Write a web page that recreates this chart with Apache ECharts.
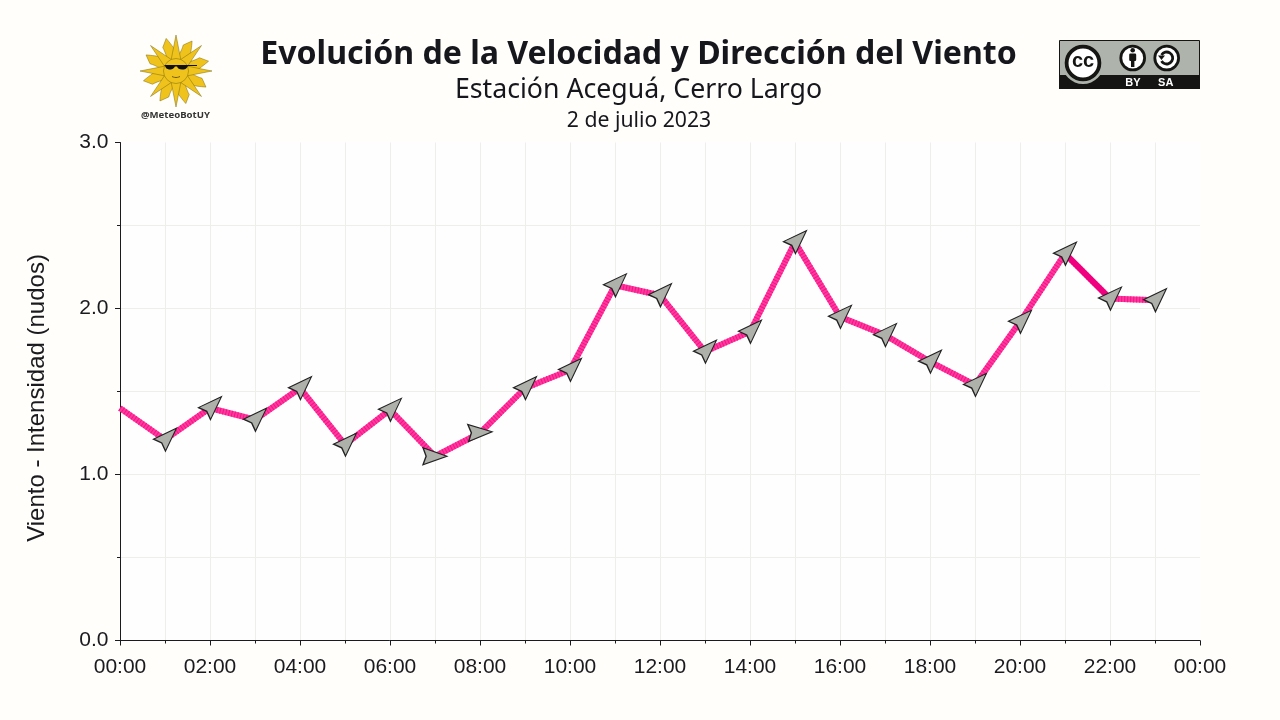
<!DOCTYPE html>
<html><head><meta charset="utf-8">
<script src="https://cdn.jsdelivr.net/npm/echarts@6/dist/echarts.min.js"></script>
<style>html,body{margin:0;padding:0;background:#FFFEFA}#c{width:1280px;height:720px}</style>
</head><body><div id="c"></div>
<script>
const hours = [0,1,2,3,4,5,6,7,8,9,10,11,12,13,14,15,16,17,18,19,20,21,22,23];
const speed = [1.40,1.21,1.40,1.33,1.52,1.18,1.39,1.11,1.25,1.52,1.63,2.14,2.08,1.74,1.86,2.40,1.95,1.84,1.68,1.54,1.92,2.33,2.06,2.05];
const direction = [null,45,45,45,45,45,45,90,87,45,45,45,45,45,45,45,45,45,45,45,45,45,45,45];
const deepHours = [21,22];
const deepSpeed = [2.33,2.06];

const titleText = 'Evolución de la Velocidad y Dirección del Viento';
const subtitleText = 'Estación Aceguá, Cerro Largo';
const dateText = '2 de julio 2023';
const yName = 'Viento - Intensidad (nudos)';

const ARROW = 'path://M8,0 L16,23 L8,20 L0,23 Z';
const AW = 17, AH = 24;
function arrowOffset(deg){
  const t = deg*Math.PI/180, c=Math.cos(t), s=Math.sin(t);
  const pts = [[0,-AH/2],[AW/2,AH/2],[-AW/2,AH/2]].map(p=>[p[0]*c-p[1]*s,p[0]*s+p[1]*c]);
  const xs = pts.map(p=>p[0]), ys = pts.map(p=>p[1]);
  return [-(Math.min(...xs)+Math.max(...xs))/2, -(Math.min(...ys)+Math.max(...ys))/2];
}
const pairs = hours.map((h,i)=>[h,speed[i]]);
const arrowData = hours.map((h,i)=> direction[i]===null ? null : ({
  value:[h,speed[i]], symbolRotate:-direction[i], symbolOffset:arrowOffset(direction[i])
})).filter(Boolean);

// Decorative logos
const logo = [];
function quad(p0,c,p1,n){const out=[];for(let k=1;k<=n;k++){const t=k/n,u=1-t;out.push([u*u*p0[0]+2*u*t*c[0]+t*t*p1[0],u*u*p0[1]+2*u*t*c[1]+t*t*p1[1]]);}return out;}
(function sun(){
  const cx=176, cy=71, fill='#EFC31B', edge='#7d6a12';
  const P=(r,a)=>[cx+r*Math.sin(a), cy-r*Math.cos(a)];
  for(let i=0;i<16;i++){
    const a=i*Math.PI/8;
    if(i%2===0){
      logo.push({type:'polygon',z:100,shape:{points:[P(12,a-0.42),P(36,a),P(12,a+0.42)]},style:{fill,stroke:edge,lineWidth:0.5}});
    } else {
      const b=P(11,a-0.42),m1=P(20,a-0.12),m2=P(27,a-0.12),t=P(34,a+0.1),m3=P(28,a+0.2),m4=P(22,a+0.32),e=P(11,a+0.42);
      const pts=[b].concat(quad(b,m1,m2,6),[t],quad(t,m3,m4,6),[e]);
      logo.push({type:'polygon',z:99,shape:{points:pts},style:{fill,stroke:edge,lineWidth:0.5}});
    }
  }
  logo.push({type:'circle',z:101,shape:{cx,cy,r:12.5},style:{fill,stroke:edge,lineWidth:0.5}});
  logo.push({type:'polygon',z:102,shape:{points:[[164,65],[197,65],[197,66],[188,66]].concat(quad([188,66],[186,70],[182,69.5],4),quad([182,69.5],[178,69.5],[177,66.5],4),[[175,66.5]],quad([175,66.5],[173,70],[169,69.5],4),quad([169,69.5],[166,69],[165,66],4))},style:{fill:'#111'}});
  logo.push({type:'polyline',z:102,shape:{points:[[172,76.5]].concat(quad([172,76.5],[176,78.5],[180,76.5],6))},style:{fill:'none',stroke:'#6e5a0c',lineWidth:1}});
  logo.push({type:'text',z:102,style:{text:'@MeteoBotUY',x:175.5,y:115,align:'center',verticalAlign:'middle',font:'bold 9.6px "Noto Sans"',fill:'#333'}});
})();
(function cc(){
  logo.push({type:'rect',z:100,shape:{x:1059.5,y:40.5,width:140,height:48},style:{fill:'#AEB4AB',stroke:'#151613',lineWidth:1}});
  logo.push({type:'rect',z:101,shape:{x:1059,y:75,width:141,height:14},style:{fill:'#151613'}});
  logo.push({type:'circle',z:102,shape:{cx:1083,cy:63,r:21},style:{fill:'#AEB4AB'}});
  logo.push({type:'circle',z:104,shape:{cx:1083,cy:63,r:16.4},style:{fill:'#fff',stroke:'#151613',lineWidth:3.8}});
  logo.push({type:'text',z:105,style:{text:'cc',x:1083,y:61.5,align:'center',verticalAlign:'middle',font:'bold 20px "Liberation Sans"',fill:'#151613'}});
  [1132.7,1166.7].forEach(cx=>{
    logo.push({type:'circle',z:103,shape:{cx,cy:58,r:11.9},style:{fill:'#fff',stroke:'#151613',lineWidth:2.8}});
  });
  logo.push({type:'circle',z:104,shape:{cx:1132.7,cy:50.3,r:2.3},style:{fill:'#151613'}});
  logo.push({type:'rect',z:104,shape:{x:1129.2,y:53.5,width:7,height:7.5,r:1.2},style:{fill:'#151613'}});
  logo.push({type:'rect',z:104,shape:{x:1131,y:60,width:3.4,height:7},style:{fill:'#151613'}});
  logo.push({type:'arc',z:104,shape:{cx:1166.7,cy:58,r:6,startAngle:-2.6,endAngle:2.6,clockwise:true},style:{fill:'none',stroke:'#151613',lineWidth:2.8}});
  logo.push({type:'polygon',z:104,shape:{points:[[1158,55.5],[1165,55.5],[1161.5,60]]},style:{fill:'#151613'}});
  logo.push({type:'text',z:105,style:{text:'BY',x:1133,y:82.5,align:'center',verticalAlign:'middle',font:'bold 11px "Liberation Sans"',fill:'#fff'}});
  logo.push({type:'text',z:105,style:{text:'SA',x:1165.7,y:82.5,align:'center',verticalAlign:'middle',font:'bold 11px "Liberation Sans"',fill:'#fff'}});
})();

const ink='#1a1a1f', gridCol='#EFEFE9';
const chart = echarts.init(document.getElementById('c'),null,{renderer:'canvas'});
chart.setOption({
  animation:false,
  backgroundColor:'#FFFEFA',
  title:[
    {text:titleText,left:633.5,top:29,textAlign:'center',textStyle:{fontFamily:'Noto Sans',fontWeight:'bold',fontSize:32.1,color:'#16161d',lineHeight:42}},
    {text:subtitleText,left:633.5,top:66,textAlign:'center',textStyle:{fontFamily:'Noto Sans',fontWeight:'normal',fontSize:26.7,color:'#16161d',lineHeight:38}},
    {text:dateText,left:634,top:101,textAlign:'center',textStyle:{fontFamily:'Noto Sans',fontWeight:'normal',fontSize:21.2,color:'#16161d',lineHeight:30}}
  ],
  grid:{left:120,right:80,top:142.5,bottom:79.5,show:true,backgroundColor:'#FFFEFE',borderWidth:0},
  xAxis:{type:'value',min:0,max:24,interval:2,offset:0.7,
    axisLine:{show:true,lineStyle:{color:ink,width:1}},
    axisTick:{show:true,length:5,lineStyle:{color:ink,width:1}},
    minorTick:{show:true,splitNumber:2,length:3,lineStyle:{color:ink,width:1}},
    splitLine:{show:true,showMinLine:false,showMaxLine:false,lineStyle:{color:gridCol,width:1}},
    minorSplitLine:{show:true,lineStyle:{color:gridCol,width:1}},
    axisLabel:{margin:16,fontFamily:'Liberation Sans',fontSize:21,color:ink,showMinLabel:true,showMaxLabel:true,
      formatter:v=>String(v%24).padStart(2,'0')+':00'}
  },
  yAxis:{type:'value',min:0,max:3,interval:1,offset:1.5,
    name:yName,nameLocation:'middle',nameGap:69,nameRotate:90,
    nameTextStyle:{fontFamily:'Liberation Sans',fontSize:24,color:ink,padding:[0,13,0,0]},
    axisLine:{show:true,lineStyle:{color:ink,width:1}},
    axisTick:{show:true,length:5,lineStyle:{color:ink,width:1}},
    minorTick:{show:true,splitNumber:2,length:3,lineStyle:{color:ink,width:1}},
    splitLine:{show:true,showMinLine:false,showMaxLine:false,lineStyle:{color:gridCol,width:1}},
    minorSplitLine:{show:true,lineStyle:{color:gridCol,width:1}},
    axisLabel:{margin:10,padding:[2,0,0,0],fontFamily:'Liberation Sans',fontSize:21,color:ink,formatter:v=>v.toFixed(1)}
  },
  series:[
    {type:'line',data:pairs,showSymbol:false,silent:true,z:2,lineStyle:{color:'#FF3A9C',width:6,cap:'butt',join:'miter'}},
    {type:'line',data:pairs,showSymbol:false,silent:true,z:3,lineStyle:{color:'#F5108A',width:6,type:[1,2],cap:'butt',join:'miter'}},
    {type:'line',data:deepHours.map((h,i)=>[h,deepSpeed[i]]),showSymbol:false,silent:true,z:4,lineStyle:{color:'#F0007F',width:6,cap:'butt'}},
    {type:'scatter',data:arrowData,symbol:ARROW,symbolSize:[AW,AH],silent:true,z:6,clip:false,
      itemStyle:{color:'#AEB0AA',borderColor:'#222',borderWidth:1.2,opacity:1}}
  ],
  graphic:{elements:logo}
});
</script></body></html>
